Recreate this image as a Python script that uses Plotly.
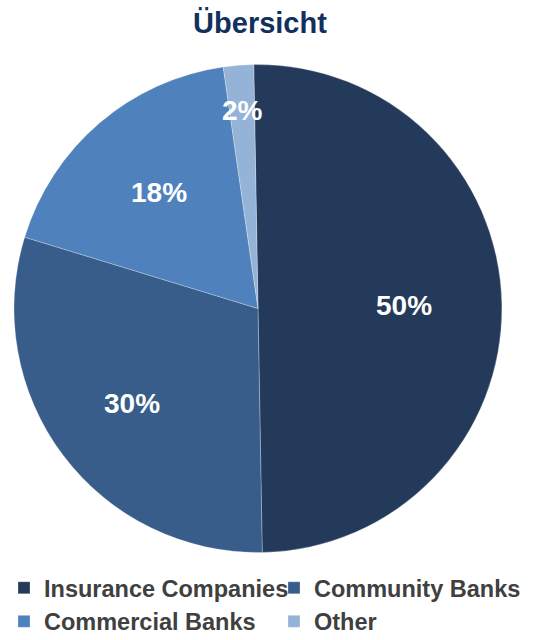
import math
import plotly.graph_objects as go

# Share of holdings by investor type
categories = ["Insurance Companies", "Community Banks", "Commercial Banks", "Other"]
shares = [50, 30, 18, 2]
slice_colors = ["#243a5a", "#385d8a", "#4f81bd", "#95b3d7"]

# radial position of each percentage label, as a fraction of the radius
label_radius = [0.60, 0.645, 0.625, 0.815]

W, H = 554, 640
CX, CY, R = 258, 308.5, 244
ROTATION = -1

FONT = "Liberation Sans, Arial, sans-serif"

fig = go.Figure(
    go.Pie(
        labels=categories,
        values=shares,
        sort=False,
        direction="clockwise",
        rotation=ROTATION,
        marker=dict(colors=slice_colors, line=dict(color="rgba(255,255,255,0.45)", width=0.6)),
        textinfo="none",
        hoverinfo="label+percent",
        domain=dict(x=[(CX - R) / W, (CX + R) / W], y=[1 - (CY + R) / H, 1 - (CY - R) / H]),
    )
)

# percentage labels placed along each slice's bisector
total = sum(shares)
cum = 0
for v, rf in zip(shares, label_radius):
    ang = math.radians(ROTATION + 360 * (cum + v / 2) / total)
    cum += v
    px = CX + rf * R * math.sin(ang)
    py = CY - rf * R * math.cos(ang)
    fig.add_annotation(
        x=px / W, y=1 - py / H, xref="paper", yref="paper",
        text=f"<b>{round(100 * v / total)}%</b>", showarrow=False,
        xanchor="center", yanchor="middle",
        font=dict(family=FONT, size=28, color="white"),
    )

fig.update_layout(
    width=W,
    height=H,
    margin=dict(l=0, r=0, t=0, b=0, autoexpand=False),
    paper_bgcolor="white",
    plot_bgcolor="white",
    title=dict(
        text="<b>Übersicht</b>",
        x=260 / W,
        xanchor="center",
        y=1 - 23 / H,
        yanchor="middle",
        yref="container",
        font=dict(family=FONT, size=29, color="#11305e"),
    ),
    legend=dict(
        orientation="h",
        x=4 / W,
        xanchor="left",
        y=1 - 566 / H,
        yanchor="top",
        traceorder="normal",
        entrywidth=225,
        itemwidth=30,
        font=dict(family=FONT, size=23.5, color="#404040", weight="bold"),
        bgcolor="rgba(0,0,0,0)",
    ),
    showlegend=True,
)

fig.write_html("out.html")
